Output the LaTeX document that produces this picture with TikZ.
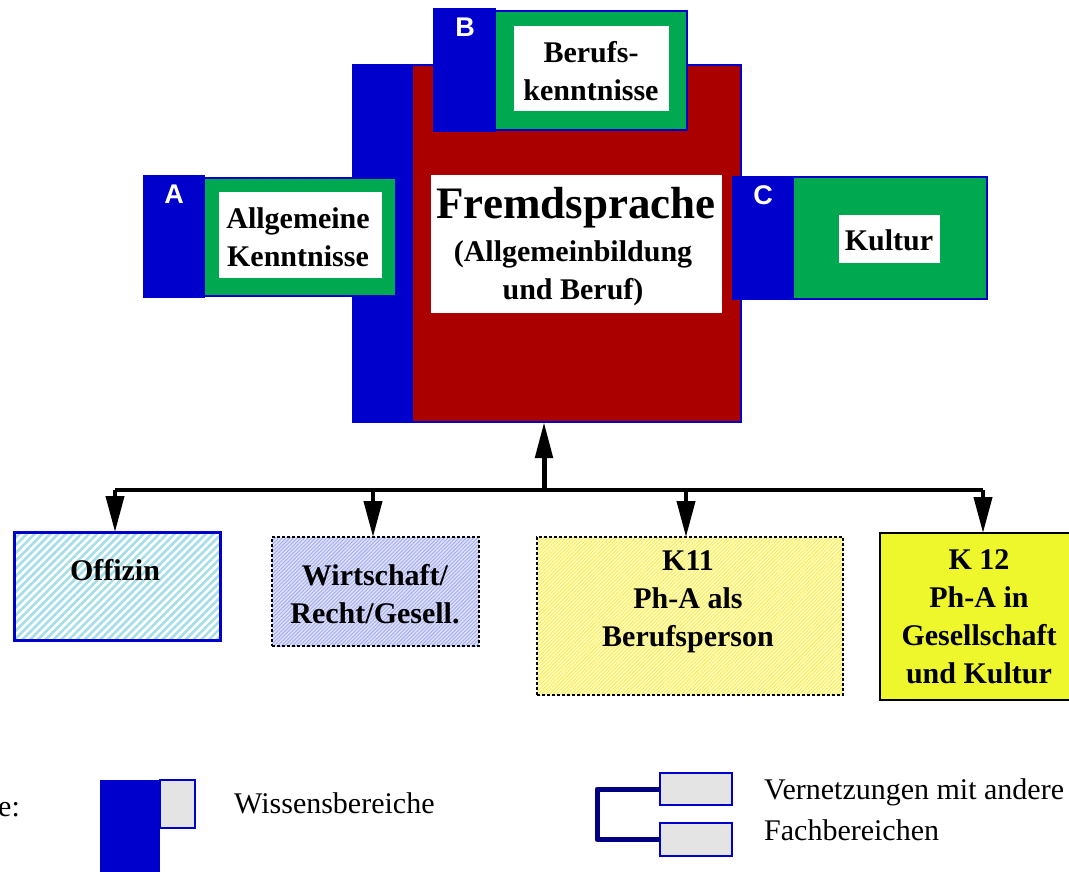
\documentclass[tikz,border=0pt]{standalone}
\usepackage{fontspec}
\setmainfont{Liberation Serif}
\newfontfamily\hvfont{Liberation Sans}
\usetikzlibrary{arrows.meta,patterns.meta}
\definecolor{kblue}{RGB}{0,0,204}
\definecolor{kred}{RGB}{170,0,0}
\definecolor{kgreen}{RGB}{0,168,80}
\definecolor{kgray}{RGB}{228,228,228}
\definecolor{knavy}{RGB}{0,0,128}
\definecolor{kyellow}{RGB}{238,246,44}
\definecolor{kcyan}{RGB}{165,222,232}
\definecolor{klav}{RGB}{222,225,250}
\definecolor{klavl}{RGB}{165,172,240}
\definecolor{klyel}{RGB}{255,252,195}
\definecolor{klyell}{RGB}{248,238,90}
\newcommand\rectnode[6]{\node[#6, inner sep=0pt, outer sep=0pt, minimum width={(#4-#2)*1pt}, minimum height={(#5-#3)*1pt}] (#1) at ({(#2+#4)/2},{(#3+#5)/2}) {};}
\tikzset{
  bluefill/.style={fill=kblue, draw=kblue, line width=1pt},
  redfill/.style={fill=kred, draw=kblue, line width=1.5pt},
  greenfill/.style={fill=kgreen, draw=kblue, line width=1.5pt},
  whitefill/.style={fill=white},
  bigtxt/.style={font=\bfseries\fontsize{30}{38}\selectfont, align=center, inner sep=0pt},
  hugetxt/.style={font=\bfseries\fontsize{45}{50}\selectfont, align=center, inner sep=0pt},
  lettxt/.style={font=\hvfont\bfseries\fontsize{27}{30}\selectfont, text=white, inner sep=0pt},
  legtxt/.style={font=\fontsize{30}{38}\selectfont, align=left, inner sep=0pt},
  offbox/.style={preaction={fill=white}, pattern={Lines[angle=45,distance=5.5pt,line width=2.6pt]}, pattern color=kcyan, draw=kblue, line width=3pt},
  wirbox/.style={preaction={fill=klav}, pattern={Lines[angle=45,distance=2.6pt,line width=0.9pt]}, pattern color=klavl, draw=black, line width=2.5pt, dash pattern=on 3pt off 2pt},
  kelfbox/.style={preaction={fill=klyel}, pattern={Lines[angle=45,distance=2.6pt,line width=0.9pt]}, pattern color=klyell, draw=black, line width=2.5pt, dash pattern=on 3pt off 2pt},
  kzwbox/.style={fill=kyellow, draw=black, line width=2.5pt},
  legbox/.style={fill=kgray, draw=kblue, line width=2pt},
  bus/.style={line width=4.5pt, black},
  uparr/.style={line width=5pt, black, -{Triangle[length=36pt,width=17pt]}},
  dnarr/.style={line width=4pt, black, -{Triangle[length=36pt,width=18pt]}},
  bracket/.style={line width=5pt, knavy, line join=round}
}
\begin{document}
\begin{tikzpicture}[x=1pt,y=-1pt]
\path[use as bounding box, fill=white] (0,0) rectangle (1069,872);

% main block
\rectnode{mainblue}{352}{65}{412}{422}{bluefill}
\rectnode{main}{412}{65}{741}{422}{redfill}
\rectnode{mainwhite}{431}{175}{722}{313}{whitefill}
\node[hugetxt] (fremd) at (576,208) {Fremdsprache};
\node[bigtxt] (fremdsub) at (573,273) {(Allgemeinbildung\\und Beruf)};

% B
\rectnode{bblue}{433}{9}{495}{132}{bluefill}
\rectnode{bgreen}{495}{11}{687}{130}{greenfill}
\rectnode{bwhite}{514}{26}{669}{111}{whitefill}
\node[lettxt] (bl) at (465,27) {B};
\node[bigtxt] (btxt) at (591,71) {Berufs-\\kenntnisse};

% A
\rectnode{ablue}{143}{176}{204}{297}{bluefill}
\rectnode{agreen}{204}{178}{396}{296}{greenfill}
\rectnode{awhite}{219}{192}{382}{278}{whitefill}
\node[lettxt] (al) at (174,194) {A};
\node[bigtxt] (atxt) at (298,237) {Allgemeine\\Kenntnisse};

% C
\rectnode{cblue}{732}{177}{793}{299}{bluefill}
\rectnode{cgreen}{793}{177}{987}{299}{greenfill}
\rectnode{cwhite}{839}{215}{940}{263}{whitefill}
\node[lettxt] (cl) at (763,195) {C};
\node[bigtxt] (ctxt) at (889,240) {Kultur};

% bottom boxes
\rectnode{off}{14}{532}{220}{640}{offbox}
\node[bigtxt] (offt) at (115,570) {Offizin};
\rectnode{wir}{272}{537}{479}{646}{wirbox}
\node[bigtxt] (wirt) at (375,594) {Wirtschaft/\\Recht/Gesell.};
\rectnode{kelf}{537}{537}{843}{695}{kelfbox}
\node[bigtxt] (kelft) at (688,602) {K11\\Ph-A als\\Berufsperson};
\rectnode{kzw}{880}{533}{1085}{700}{kzwbox}
\node[bigtxt] (kzwt) at (979,617) {K 12\\Ph-A in\\Gesellschaft\\und Kultur};

% connectors
\coordinate (b1) at (115,490);
\coordinate (b2) at (373,490);
\coordinate (bm) at (544,490);
\coordinate (b3) at (686,490);
\coordinate (b4) at (983,490);
\draw[bus] (b1) -- (b4);
\draw[uparr] (bm) -- (bm |- main.south);
\draw[dnarr] (b1) -- (b1 |- off.north);
\draw[dnarr] (b2) -- (b2 |- wir.north);
\draw[dnarr] (b3) -- (b3 |- kelf.north);
\draw[dnarr] (b4) -- (b4 |- kzw.north);

% legend
\node[legtxt, anchor=west] (legt) at (-2,810) {e:};
\rectnode{lblue}{100}{780}{160}{872}{fill=kblue}
\rectnode{lgray}{160}{780}{195}{828}{legbox}
\node[legtxt, anchor=west] (wiss) at (234,803) {Wissensbereiche};
\rectnode{lg1}{660}{773}{732}{805}{legbox}
\rectnode{lg2}{660}{823}{732}{856}{legbox}
\draw[bracket] (lg1.west) -- ++(-63,0) |- (lg2.west);
\node[legtxt, anchor=west] (vern1) at (764,792) {Vernetzungen mit andere};
\node[legtxt, anchor=west] (vern2) at (764,830) {Fachbereichen};
\end{tikzpicture}
\end{document}
